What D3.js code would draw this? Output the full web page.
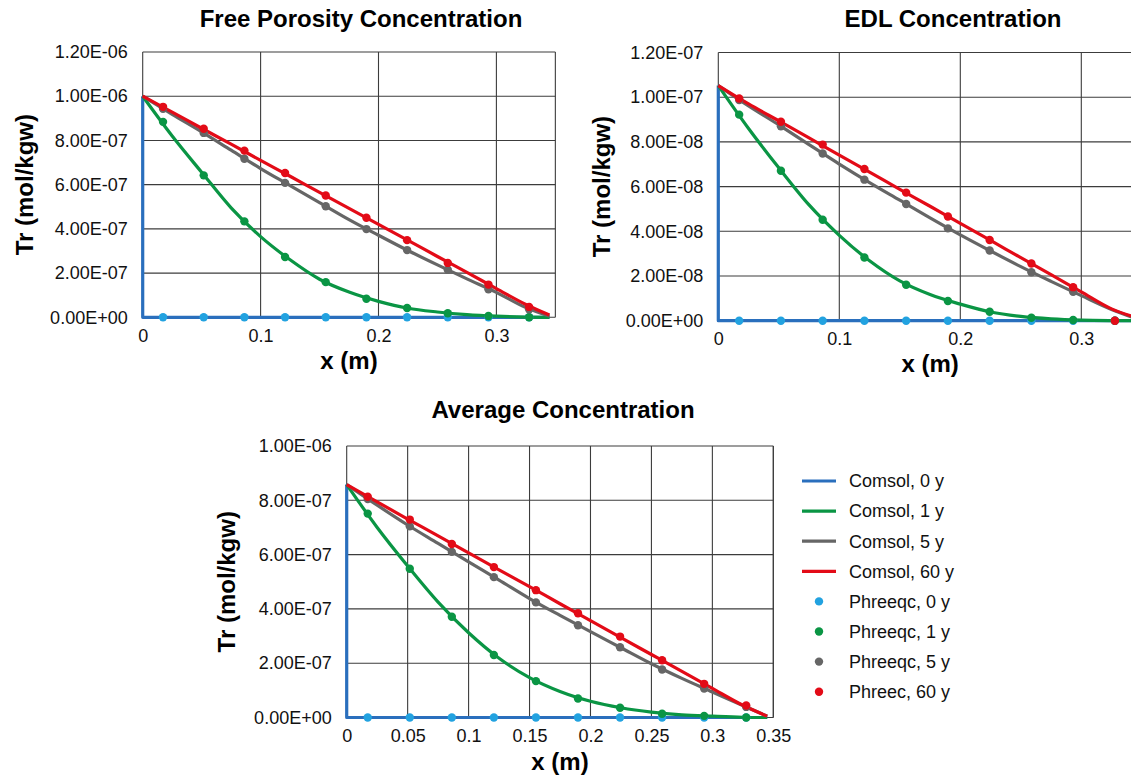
<!DOCTYPE html>
<html>
<head>
<meta charset="utf-8">
<script src="https://cdn.jsdelivr.net/npm/d3@7"></script>
<style>
  body { margin: 0; background: #fff; }
  svg { display: block; font-family: "Liberation Sans", Arial, sans-serif; }
</style>
</head>
<body>
<svg id="chart" width="1131" height="780"></svg>
<script>
// ---------------------------------------------------------------------
// Data
// ---------------------------------------------------------------------
const seriesNames = ['Comsol, 0 y', 'Comsol, 1 y', 'Comsol, 5 y', 'Comsol, 60 y',
                     'Phreeqc, 0 y', 'Phreeqc, 1 y', 'Phreeqc, 5 y', 'Phreec, 60 y'];

// Phreeqc cell centres (m)
const cellX = [0.01725, 0.05175, 0.08625, 0.12075, 0.15525, 0.18975, 0.22425, 0.25875, 0.29325, 0.32775];
// Comsol sampling positions (m)
const comsolX = [0, 0.025, 0.05, 0.075, 0.1, 0.125, 0.15, 0.175, 0.2, 0.225, 0.25, 0.275, 0.3, 0.325, 0.345];
// Comsol 0 y: step at the inlet then zero along the column
const comsol0X = [0, 0, 0.345];

// Free porosity concentration (mol/kgw)
const freeComsol0 = [1.0e-6, 0, 0];
const freeComsol1 = [1.0e-6, 8.2e-7, 6.56e-7, 4.95e-7, 3.65e-7, 2.6e-7, 1.72e-7, 1.14e-7, 7.2e-8, 4.1e-8, 2.4e-8, 1.2e-8, 5e-9, 1e-9, 0];
const freeComsol5 = [1.0e-6, 9.18e-7, 8.39e-7, 7.56e-7, 6.73e-7, 5.96e-7, 5.19e-7, 4.42e-7, 3.71e-7, 3.02e-7, 2.37e-7, 1.74e-7, 1.13e-7, 4.4e-8, 5e-9];
const freeComsol60 = [1.0e-6, 9.28e-7, 8.55e-7, 7.83e-7, 7.1e-7, 6.38e-7, 5.65e-7, 4.93e-7, 4.2e-7, 3.48e-7, 2.75e-7, 2.03e-7, 1.3e-7, 5.8e-8, 1e-8];
const freePhreeqc0 = [0, 0, 0, 0, 0, 0, 0, 0, 0, 0];
const freePhreeqc1 = [8.84e-7, 6.42e-7, 4.34e-7, 2.73e-7, 1.59e-7, 8.4e-8, 4.2e-8, 1.8e-8, 6e-9, 0];
const freePhreeqc5 = [9.43e-7, 8.34e-7, 7.17e-7, 6.08e-7, 5.02e-7, 3.99e-7, 3.04e-7, 2.15e-7, 1.27e-7, 3.6e-8];
const freePhreeqc60 = [9.52e-7, 8.53e-7, 7.54e-7, 6.53e-7, 5.51e-7, 4.5e-7, 3.49e-7, 2.46e-7, 1.48e-7, 4.7e-8];

// EDL concentration (mol/kgw)
const edlComsol0 = [1.052e-7, 0, 0];
const edlComsol1 = [1.052e-7, 8.6e-8, 6.84e-8, 5.18e-8, 3.82e-8, 2.68e-8, 1.78e-8, 1.17e-8, 7.4e-9, 3.9e-9, 1.9e-9, 8e-10, 2.5e-10, 5e-11, 0];
const edlComsol5 = [1.052e-7, 9.61e-8, 8.76e-8, 7.88e-8, 7.01e-8, 6.18e-8, 5.39e-8, 4.6e-8, 3.84e-8, 3.12e-8, 2.42e-8, 1.76e-8, 1.12e-8, 5.0e-9, 1e-9];
const edlComsol60 = [1.052e-7, 9.7e-8, 8.94e-8, 8.18e-8, 7.41e-8, 6.65e-8, 5.88e-8, 5.12e-8, 4.35e-8, 3.59e-8, 2.82e-8, 2.06e-8, 1.29e-8, 5.3e-9, 1.5e-9];
const edlPhreeqc0 = [0, 0, 0, 0, 0, 0, 0, 0, 0, 0];
const edlPhreeqc1 = [9.22e-8, 6.71e-8, 4.52e-8, 2.83e-8, 1.61e-8, 8.8e-9, 4.0e-9, 1.3e-9, 3e-10, 0];
const edlPhreeqc5 = [9.87e-8, 8.70e-8, 7.48e-8, 6.31e-8, 5.22e-8, 4.13e-8, 3.14e-8, 2.17e-8, 1.29e-8, 0];
const edlPhreeqc60 = [9.94e-8, 8.90e-8, 7.88e-8, 6.79e-8, 5.73e-8, 4.66e-8, 3.61e-8, 2.56e-8, 1.50e-8, 0];

// Average concentration (mol/kgw)
const avgComsol0 = [8.58e-7, 0, 0];
const avgComsol1 = [8.58e-7, 7.0e-7, 5.58e-7, 4.25e-7, 3.12e-7, 2.18e-7, 1.47e-7, 9.6e-8, 6.0e-8, 3.6e-8, 2.0e-8, 1.0e-8, 5e-9, 1e-9, 0];
const avgComsol5 = [8.58e-7, 7.82e-7, 7.09e-7, 6.41e-7, 5.73e-7, 5.06e-7, 4.38e-7, 3.76e-7, 3.16e-7, 2.57e-7, 1.98e-7, 1.44e-7, 9.4e-8, 4.4e-8, 5e-9];
const avgComsol60 = [8.58e-7, 7.94e-7, 7.31e-7, 6.69e-7, 6.06e-7, 5.44e-7, 4.82e-7, 4.19e-7, 3.57e-7, 2.94e-7, 2.32e-7, 1.70e-7, 1.07e-7, 4.5e-8, 5e-9];
const avgPhreeqc0 = [0, 0, 0, 0, 0, 0, 0, 0, 0, 0];
const avgPhreeqc1 = [7.51e-7, 5.48e-7, 3.71e-7, 2.30e-7, 1.34e-7, 7.0e-8, 3.6e-8, 1.4e-8, 6e-9, 0];
const avgPhreeqc5 = [8.05e-7, 7.04e-7, 6.10e-7, 5.17e-7, 4.24e-7, 3.40e-7, 2.59e-7, 1.77e-7, 1.07e-7, 3.9e-8];
const avgPhreeqc60 = [8.13e-7, 7.29e-7, 6.39e-7, 5.54e-7, 4.69e-7, 3.84e-7, 2.98e-7, 2.11e-7, 1.24e-7, 4.4e-8];

// Axis ticks
const freeYTicks = [0, 2e-7, 4e-7, 6e-7, 8e-7, 1.0e-6, 1.2e-6];
const edlYTicks = [0, 2e-8, 4e-8, 6e-8, 8e-8, 1.0e-7, 1.2e-7];
const avgYTicks = [0, 2e-7, 4e-7, 6e-7, 8e-7, 1.0e-6];
const topXTicks = [0, 0.1, 0.2, 0.3];
const avgXTicks = [0, 0.05, 0.1, 0.15, 0.2, 0.25, 0.3, 0.35];

// ---------------------------------------------------------------------
// Styling
// ---------------------------------------------------------------------
const lineColors = ['#2a6fbd', '#0a9544', '#666666', '#e30b17'];
const dotColors = ['#22a2e0', '#0a9544', '#666666', '#e30b17'];
const GRID = '#3c3c3c';

const svg = d3.select('#chart');

function fmtSci(d) {
    if (d === 0) return '0.00E+00';
    const [m, e] = d.toExponential(2).toUpperCase().split('E');
    const sign = e[0] === '-' ? '-' : '+';
    const digits = e.replace(/[+-]/, '').padStart(2, '0');
    return m + 'E' + sign + digits;
}
const fmtX = d => String(+d.toFixed(2));

function drawPanel(p) {
    const w = p.xMax * p.pxPerUnit;
    const h = p.bottom - p.top;
    const x = d3.scaleLinear().domain([0, p.xMax]).range([p.left, p.left + w]);
    const y = d3.scaleLinear().domain([0, p.yMax]).range([p.bottom, p.top]);
    const g = svg.append('g');

    // grid
    g.selectAll('.hgrid').data(p.yTicks).join('line')
        .attr('x1', p.left).attr('x2', p.left + w)
        .attr('y1', d => y(d)).attr('y2', d => y(d))
        .attr('stroke', GRID).attr('stroke-width', 1.1);
    g.selectAll('.vgrid').data(p.xTicks.concat([p.xMax])).join('line')
        .attr('x1', d => x(d)).attr('x2', d => x(d))
        .attr('y1', p.top).attr('y2', p.bottom)
        .attr('stroke', GRID).attr('stroke-width', 1.1);

    // axes (labels only)
    const ya = g.append('g').attr('transform', `translate(${p.left},0)`)
        .call(d3.axisLeft(y).tickValues(p.yTicks).tickSize(0).tickPadding(15).tickFormat(fmtSci));
    const xa = g.append('g').attr('transform', `translate(0,${p.bottom})`)
        .call(d3.axisBottom(x).tickValues(p.xTicks).tickSize(0).tickPadding(12).tickFormat(fmtX));
    [ya, xa].forEach(a => {
        a.select('.domain').remove();
        a.selectAll('text').attr('font-size', 18).attr('fill', '#111')
            .style('font-family', '"Liberation Sans", Arial, sans-serif');
    });

    // titles
    g.append('text').attr('x', p.titleX).attr('y', p.titleY)
        .attr('text-anchor', 'middle').attr('font-size', 24).attr('font-weight', 'bold')
        .text(p.title);
    g.append('text').attr('x', p.left + w / 2).attr('y', p.xLabelY)
        .attr('text-anchor', 'middle').attr('font-size', 24).attr('font-weight', 'bold')
        .text('x (m)');
    g.append('text')
        .attr('transform', `translate(${p.yLabelX},${(p.top + p.bottom) / 2}) rotate(-90)`)
        .attr('text-anchor', 'middle').attr('font-size', 24).attr('font-weight', 'bold')
        .text('Tr (mol/kgw)');

    // comsol lines
    const smooth = d3.line().x(d => x(d[0])).y(d => y(d[1])).curve(d3.curveMonotoneX);
    const straight = d3.line().x(d => x(d[0])).y(d => y(d[1]));
    p.comsol.forEach((vals, i) => {
        const xs = i === 0 ? comsol0X : comsolX;
        const pts = xs.map((xv, k) => [xv, vals[k]]);
        g.append('path').datum(pts)
            .attr('d', i === 0 ? straight : smooth)
            .attr('fill', 'none').attr('stroke', lineColors[i])
            .attr('stroke-width', 3.2).attr('stroke-linejoin', 'round');
    });

    // phreeqc points
    p.phreeqc.forEach((vals, i) => {
        g.append('g').selectAll('circle').data(cellX.map((xv, k) => [xv, vals[k]])).join('circle')
            .attr('cx', d => x(d[0])).attr('cy', d => y(d[1])).attr('r', 4.2)
            .attr('fill', dotColors[i]);
    });
}

drawPanel({
    title: 'Free Porosity Concentration', titleX: 361, titleY: 27,
    left: 142.7, top: 52, bottom: 317.3, pxPerUnit: 1179, xMax: 0.35, yMax: 1.2e-6,
    yTicks: freeYTicks, xTicks: topXTicks, xLabelY: 369, yLabelX: 33,
    comsol: [freeComsol0, freeComsol1, freeComsol5, freeComsol60],
    phreeqc: [freePhreeqc0, freePhreeqc1, freePhreeqc5, freePhreeqc60]
});

drawPanel({
    title: 'EDL Concentration', titleX: 953, titleY: 27,
    left: 718.3, top: 52.5, bottom: 320.7, pxPerUnit: 1210, xMax: 0.35, yMax: 1.2e-7,
    yTicks: edlYTicks, xTicks: topXTicks, xLabelY: 372, yLabelX: 610,
    comsol: [edlComsol0, edlComsol1, edlComsol5, edlComsol60],
    phreeqc: [edlPhreeqc0, edlPhreeqc1, edlPhreeqc5, edlPhreeqc60]
});

drawPanel({
    title: 'Average Concentration', titleX: 563, titleY: 418,
    left: 346.7, top: 446, bottom: 717.5, pxPerUnit: 1218.9, xMax: 0.35, yMax: 1.0e-6,
    yTicks: avgYTicks, xTicks: avgXTicks, xLabelY: 770, yLabelX: 235,
    comsol: [avgComsol0, avgComsol1, avgComsol5, avgComsol60],
    phreeqc: [avgPhreeqc0, avgPhreeqc1, avgPhreeqc5, avgPhreeqc60]
});

// ---------------------------------------------------------------------
// Legend
// ---------------------------------------------------------------------
const legend = svg.append('g').attr('transform', 'translate(802,481)');
seriesNames.forEach((name, i) => {
    const row = legend.append('g').attr('transform', `translate(0,${i * 30.1})`);
    if (i < 4) {
        row.append('line').attr('x1', 0).attr('x2', 34).attr('y1', 0).attr('y2', 0)
            .attr('stroke', lineColors[i]).attr('stroke-width', 3.2);
    } else {
        row.append('circle').attr('cx', 17).attr('cy', 0).attr('r', 4.2).attr('fill', dotColors[i - 4]);
    }
    row.append('text').attr('x', 47).attr('y', 0).attr('dy', '0.35em')
        .attr('font-size', 18).attr('fill', '#111').text(name);
});
</script>
</body>
</html>
